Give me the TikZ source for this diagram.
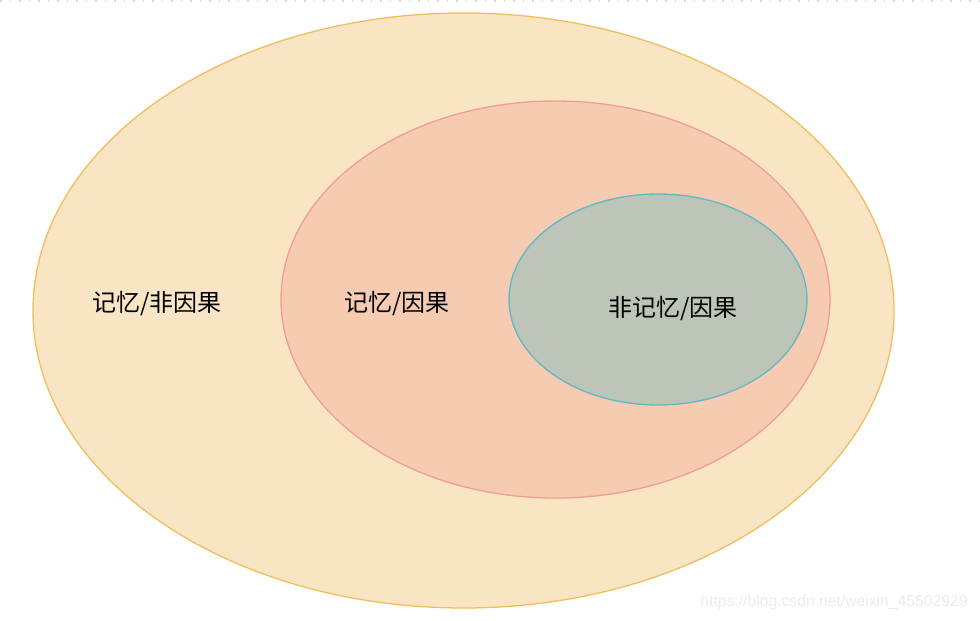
\documentclass[tikz,border=0pt]{standalone}
\usepackage{fontspec}
\newfontfamily\cjk{Noto Sans CJK SC}
\newfontfamily\wm{Liberation Sans}
\definecolor{outerfill}{RGB}{249,229,196}
\definecolor{outerdraw}{RGB}{239,190,95}
\definecolor{midfill}{RGB}{246,203,178}
\definecolor{middraw}{RGB}{238,160,140}
\definecolor{innerfill}{RGB}{189,197,184}
\definecolor{innerdraw}{RGB}{96,184,196}
\definecolor{wmgray}{RGB}{236,236,236}
\definecolor{dashgray}{RGB}{215,215,215}
\tikzset{
  setshape/.style={ellipse, line width=1.3pt, inner sep=0pt},
  setlabel/.style={font=\cjk\fontsize{24}{28}\selectfont, text=black, inner sep=0pt}
}
\usetikzlibrary{shapes.geometric}
\begin{document}
\begin{tikzpicture}[x=1pt,y=-1pt]
\useasboundingbox (0,0) rectangle (980,621);
\fill[white] (0,0) rectangle (980,621);
\coordinate (dl) at (0,1);
\coordinate (dr) at (980,1);
\draw[dashgray, line width=2pt, dash pattern=on 1.5pt off 8pt] (dl) -- (dr);
\node[setshape, draw=outerdraw, fill=outerfill, minimum width=861pt, minimum height=595pt] (outer) at (463.5,310.5) {};
\node[setshape, draw=middraw, fill=midfill, minimum width=549pt, minimum height=397pt] (mid) at (555.5,299.5) {};
\node[setshape, draw=innerdraw, fill=innerfill, minimum width=298pt, minimum height=211pt] (inner) at (658,299.5) {};
\node[setlabel] (l1) at (157,303.5) {记忆/非因果};
\node[setlabel] (l2) at (397,303.5) {记忆/因果};
\node[setlabel] (l3) at (673,308.5) {非记忆/因果};
\node[font=\wm\fontsize{15.7}{18}\selectfont, text=wmgray, inner sep=0pt] (wm) at (834,602) {https://blog.csdn.net/weixin\_45502929};
\end{tikzpicture}
\end{document}
